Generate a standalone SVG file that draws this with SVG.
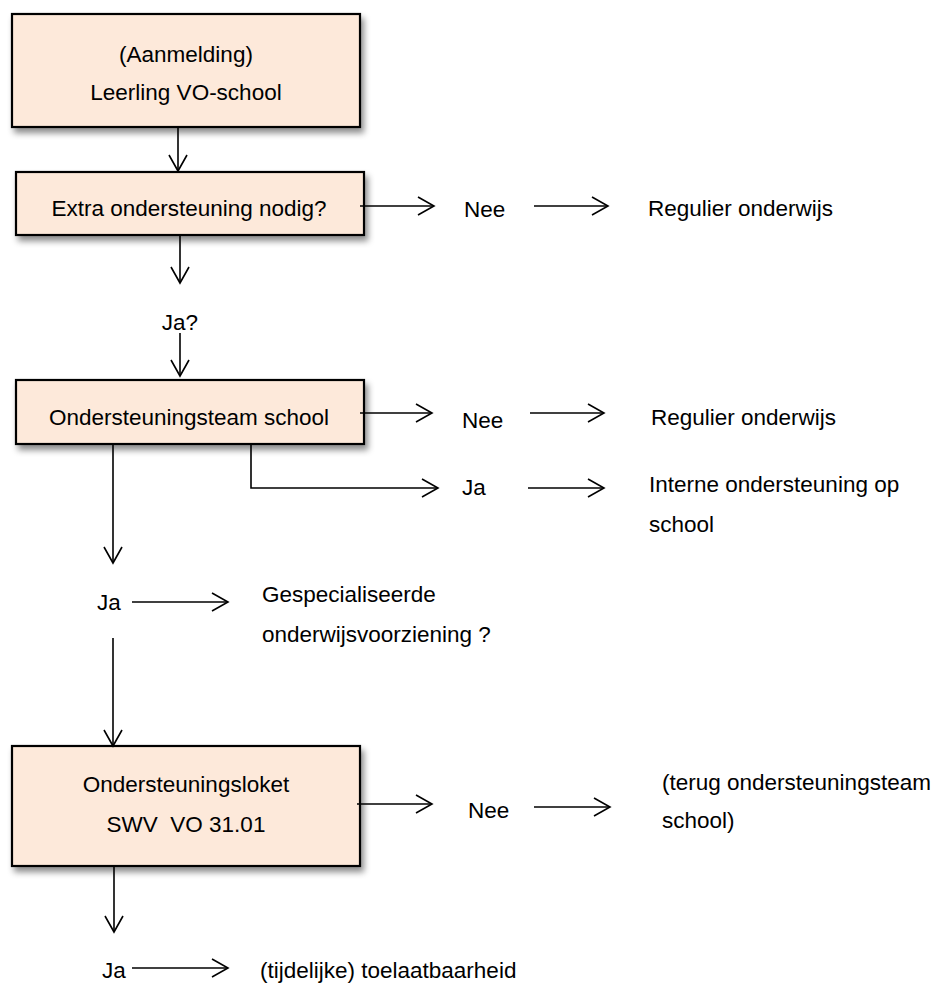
<svg xmlns="http://www.w3.org/2000/svg" width="940" height="985" viewBox="0 0 940 985">
<style>
.box{fill:#FDE9DA;stroke:#000;stroke-width:2.2}
.t{font-family:"Liberation Sans",Arial,sans-serif;font-size:22.5px;fill:#000}
.c{text-anchor:middle}
.ln{fill:none;stroke:#000;stroke-width:1.6}
</style>
<defs>
<filter id="sh" x="-10%" y="-10%" width="125%" height="140%">
<feDropShadow dx="3" dy="5" stdDeviation="3" flood-color="#000" flood-opacity="0.45"/>
</filter>
<marker id="ah" markerUnits="userSpaceOnUse" markerWidth="20" markerHeight="22" refX="17" refY="10" orient="auto">
<path d="M1,1 L17,10 L1,19" fill="none" stroke="#000" stroke-width="1.6"/>
</marker>
</defs>
<rect width="940" height="985" fill="#fff"/>

<g id="n1">
<rect class="box" x="12" y="14" width="348" height="113" filter="url(#sh)"/>
<text class="t c" x="186" y="62">(Aanmelding)</text>
<text class="t c" x="186" y="100">Leerling VO-school</text>
</g>
<g id="n2">
<rect class="box" x="16" y="172" width="348" height="63" filter="url(#sh)"/>
<text class="t c" x="189" y="216">Extra ondersteuning nodig?</text>
</g>
<g id="n3">
<rect class="box" x="16" y="380" width="348" height="64" filter="url(#sh)"/>
<text class="t c" x="189" y="425">Ondersteuningsteam school</text>
</g>
<g id="n4">
<rect class="box" x="12" y="746" width="348" height="120" filter="url(#sh)"/>
<text class="t c" x="186" y="792">Ondersteuningsloket</text>
<text class="t c" x="186" y="832" xml:space="preserve">SWV  VO 31.01</text>
</g>

<g id="labels">
<text class="t" x="464" y="217">Nee</text>
<text class="t" x="648" y="216">Regulier onderwijs</text>
<text class="t c" x="180" y="330">Ja?</text>
<text class="t" x="462" y="428">Nee</text>
<text class="t" x="651" y="425">Regulier onderwijs</text>
<text class="t" x="462" y="495">Ja</text>
<text class="t" x="649" y="492">Interne ondersteuning op</text>
<text class="t" x="649" y="532">school</text>
<text class="t" x="97" y="610">Ja</text>
<text class="t" x="262" y="602">Gespecialiseerde</text>
<text class="t" x="262" y="642">onderwijsvoorziening ?</text>
<text class="t" x="468" y="818">Nee</text>
<text class="t" x="662" y="790">(terug ondersteuningsteam</text>
<text class="t" x="662" y="828">school)</text>
<text class="t" x="102" y="978">Ja</text>
<text class="t" x="260" y="978">(tijdelijke) toelaatbaarheid</text>
</g>

<g id="connectors">
<line class="ln" x1="178" y1="127" x2="178" y2="171" marker-end="url(#ah)"/>
<line class="ln" x1="360" y1="206" x2="434" y2="206" marker-end="url(#ah)"/>
<line class="ln" x1="534" y1="206" x2="608" y2="206" marker-end="url(#ah)"/>
<line class="ln" x1="180" y1="235" x2="180" y2="283" marker-end="url(#ah)"/>
<line class="ln" x1="180" y1="333" x2="180" y2="376" marker-end="url(#ah)"/>
<line class="ln" x1="360" y1="413" x2="432" y2="413" marker-end="url(#ah)"/>
<line class="ln" x1="530" y1="413" x2="604" y2="413" marker-end="url(#ah)"/>
<polyline class="ln" points="251,444 251,488 438,488" marker-end="url(#ah)"/>
<line class="ln" x1="528" y1="488" x2="604" y2="488" marker-end="url(#ah)"/>
<line class="ln" x1="113" y1="444" x2="113" y2="563" marker-end="url(#ah)"/>
<line class="ln" x1="132" y1="602" x2="228" y2="602" marker-end="url(#ah)"/>
<line class="ln" x1="113" y1="638" x2="113" y2="746" marker-end="url(#ah)"/>
<line class="ln" x1="357" y1="804" x2="432" y2="804" marker-end="url(#ah)"/>
<line class="ln" x1="534" y1="807" x2="610" y2="807" marker-end="url(#ah)"/>
<line class="ln" x1="114" y1="866" x2="114" y2="932" marker-end="url(#ah)"/>
<line class="ln" x1="132" y1="968" x2="228" y2="968" marker-end="url(#ah)"/>
</g>
</svg>
